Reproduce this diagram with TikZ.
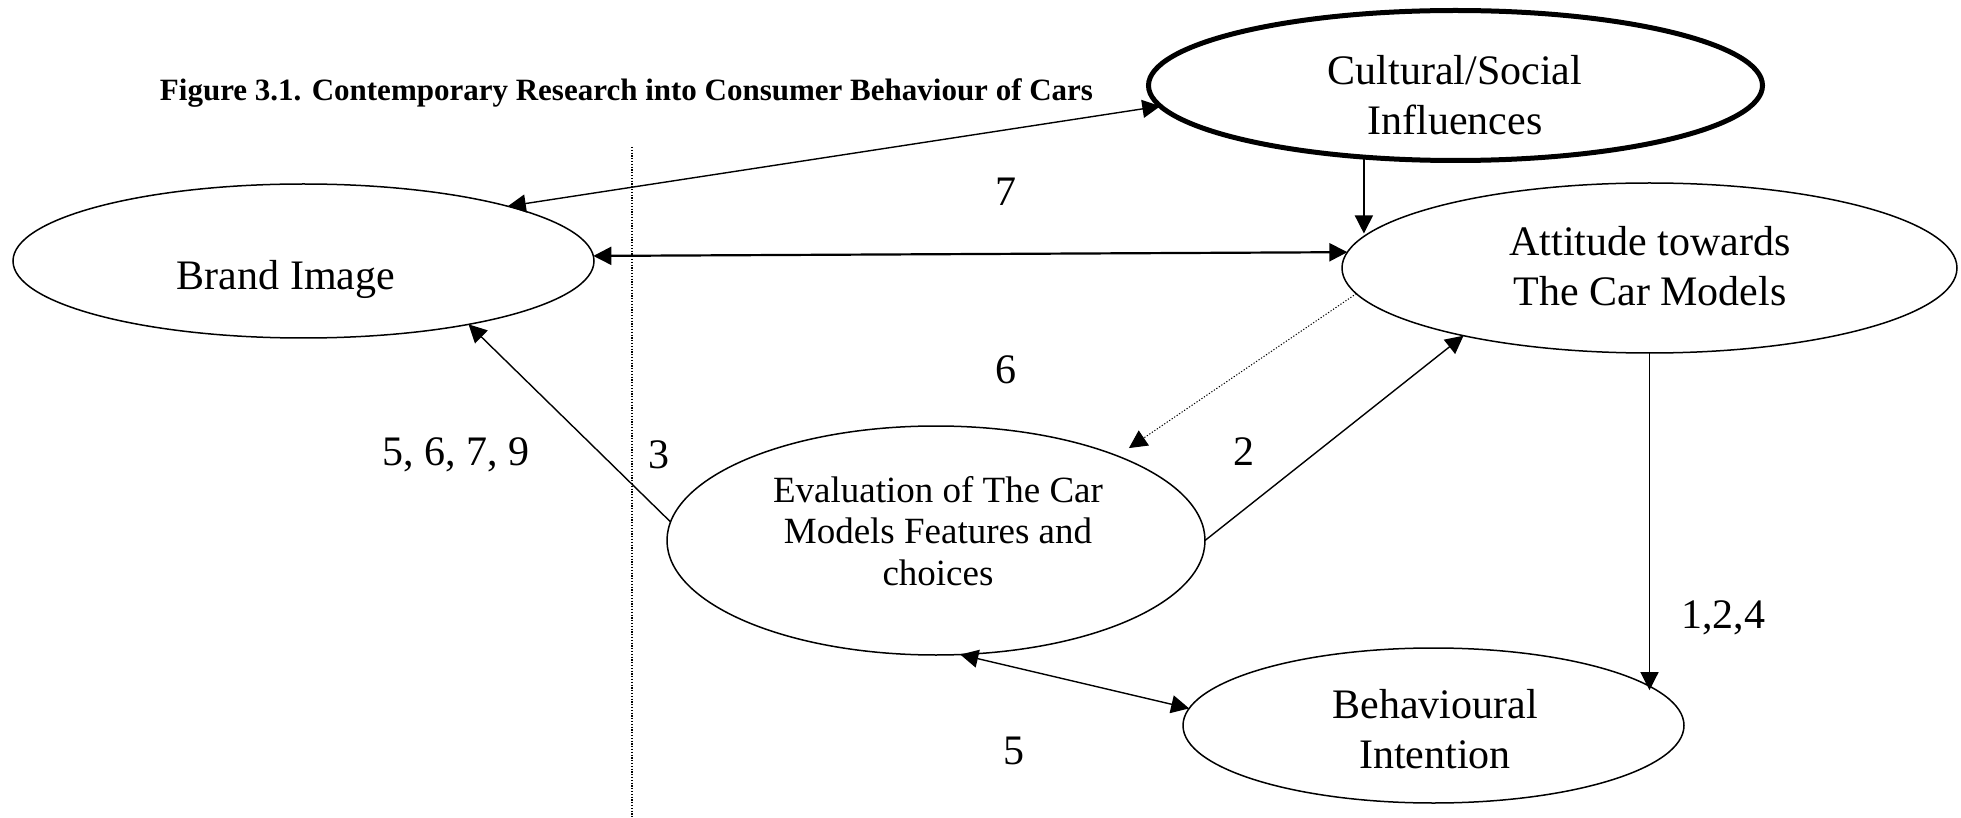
\documentclass[tikz,border=0pt]{standalone}
\usepackage{fontspec}
\setmainfont{Liberation Serif}
\usetikzlibrary{shapes.geometric,arrows.meta}

\begin{document}
\begin{tikzpicture}[x=0.5pt,y=-0.5pt,
  concept/.style={draw, ellipse, inner sep=0pt, outer sep=0pt, line width=0.75pt},
  conceptbold/.style={concept, line width=2.5pt},
  conceptlabel/.style={align=center, inner sep=0pt, font=\fontsize{21}{25}\selectfont},
  smalllabel/.style={align=center, inner sep=0pt, font=\fontsize{18.5}{20.75}\selectfont},
  numlabel/.style={anchor=base, inner sep=0pt, font=\fontsize{21}{24}\selectfont},
  link/.style={line width=0.7pt, -{Triangle[length=9pt,width=9pt]}},
  twoway/.style={line width=0.7pt, {Triangle[length=9pt,width=9pt]}-{Triangle[length=9pt,width=9pt]}},
  dotlink/.style={line width=0.5pt, dash pattern=on 0.6pt off 0.9pt, -{Triangle[length=9pt,width=9pt]}},
  divider/.style={line width=0.6pt, dash pattern=on 0.6pt off 0.8pt}
]
\useasboundingbox (0,0) rectangle (1961,818);

% title
\node[anchor=base, inner sep=0pt, font=\bfseries\fontsize{15.5}{18}\selectfont] (title) at (626.5,101)
  {Figure 3.1. Contemporary Research into Consumer Behaviour of Cars};

% concept ellipses
\node[conceptbold, minimum width=307pt, minimum height=75pt] (cult) at (1455.5,85.5) {};
\node[concept, minimum width=290.5pt, minimum height=77pt] (brand) at (303.5,261) {};
\node[concept, minimum width=307.5pt, minimum height=85pt] (att) at (1649.5,268) {};
\node[concept, minimum width=269pt, minimum height=114.5pt] (eval) at (936,540.5) {};
\node[concept, minimum width=250.5pt, minimum height=77.5pt] (behav) at (1433.5,725.5) {};

% concept texts
\node[conceptlabel] (cultT) at (1455,95) {Cultural/Social\\Influences};
\node[numlabel] (brandT) at (286,290) {Brand Image};
\node[conceptlabel] (attT) at (1650,266) {Attitude towards\\The Car Models};
\node[smalllabel] (evalT) at (938,531) {Evaluation of The Car\\Models Features and\\choices};
\node[conceptlabel] (behavT) at (1435,729) {Behavioural\\Intention};

% dotted divider
\coordinate (divtop) at (632,147);
\coordinate (divbot) at (632,818);
\draw[divider] (divtop) -- (divbot);

% connectors
\draw[twoway] (cult.184) -- (brand.15);
\draw[twoway, line width=1.1pt] (brand.1.4) -- (att.177.4);
\draw[link] (cult.218.4) -- (cult.218.4 |- att.173.5);
\draw[link] (eval.176.1) -- (brand.339.8);
\draw[dotlink, shorten >=7pt] (att.185.4) -- (eval.25.2);
\draw[link] (eval.0.5) -- (att.200.8);
\draw[link] (att.south) -- (att.south |- behav.9.4);
\draw[twoway] (eval.282.1) -- (behav.176.5);

% study numbers
\node[numlabel] (n7) at (1006,206) {7};
\node[numlabel] (n6) at (1006,384) {6};
\node[numlabel] (n5679) at (456,466) {5, 6, 7, 9};
\node[numlabel] (n3) at (659,468) {3};
\node[numlabel] (n2) at (1244,466) {2};
\node[numlabel] (n5) at (1014,764) {5};
\node[numlabel] (n124) at (1723,628) {1,2,4};
\end{tikzpicture}
\end{document}
